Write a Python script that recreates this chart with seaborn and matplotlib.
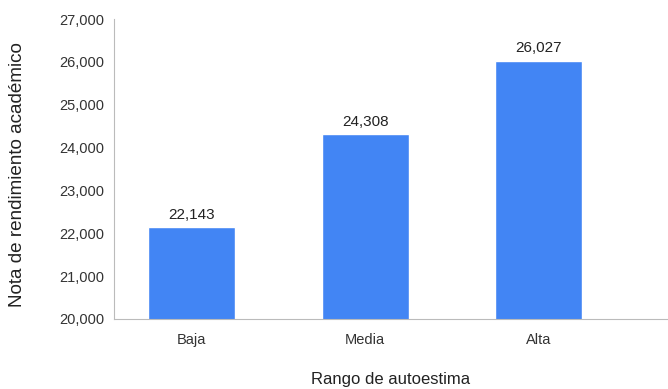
import matplotlib
matplotlib.use("Agg")
import matplotlib.pyplot as plt
import seaborn as sns
import pandas as pd
from matplotlib.ticker import FuncFormatter

categories = ["Baja", "Media", "Alta"]
values = [22143, 24308, 26027]
value_labels = ["22,143", "24,308", "26,027"]

sns.set_theme(style="white")
plt.rcParams['font.family'] = ['Liberation Sans', 'DejaVu Sans']

df = pd.DataFrame({"cat": categories, "val": values})
fig = plt.figure(figsize=(6.68, 3.89), dpi=100)
ax = fig.add_axes([0.1707, 0.18, 0.828, 0.771])
sns.barplot(data=df, x="cat", y="val", color="#4285F4", saturation=1, width=0.5, ax=ax)
ax.set_ylim(20000, 27000)
ax.set_xlim(-0.447, 2.74)
ax.set_yticks(range(20000, 27001, 1000))
ax.yaxis.set_major_formatter(FuncFormatter(lambda v, p: f"{int(v):,}"))
for i, (v, lab) in enumerate(zip(values, value_labels)):
    ax.text(i, v + 130, lab, ha="center", va="bottom", fontsize=11, color="#222222")
ax.set_xlabel("Rango de autoestima", fontsize=12, labelpad=18, color="#222222")
ax.set_ylabel("Nota de rendimiento académico", fontsize=13.6, color="#222222")
ax.yaxis.set_label_coords(-0.159, 0.48)
ax.tick_params(axis="both", labelsize=10.5, colors="#333333", length=0)
ax.tick_params(axis="x", pad=10)
ax.tick_params(axis="y", pad=7)
for s in ["top", "right"]:
    ax.spines[s].set_visible(False)
for s in ["left", "bottom"]:
    ax.spines[s].set_color("#bbbbbb")
    ax.spines[s].set_linewidth(0.8)
fig.savefig("out.png", dpi=100)
